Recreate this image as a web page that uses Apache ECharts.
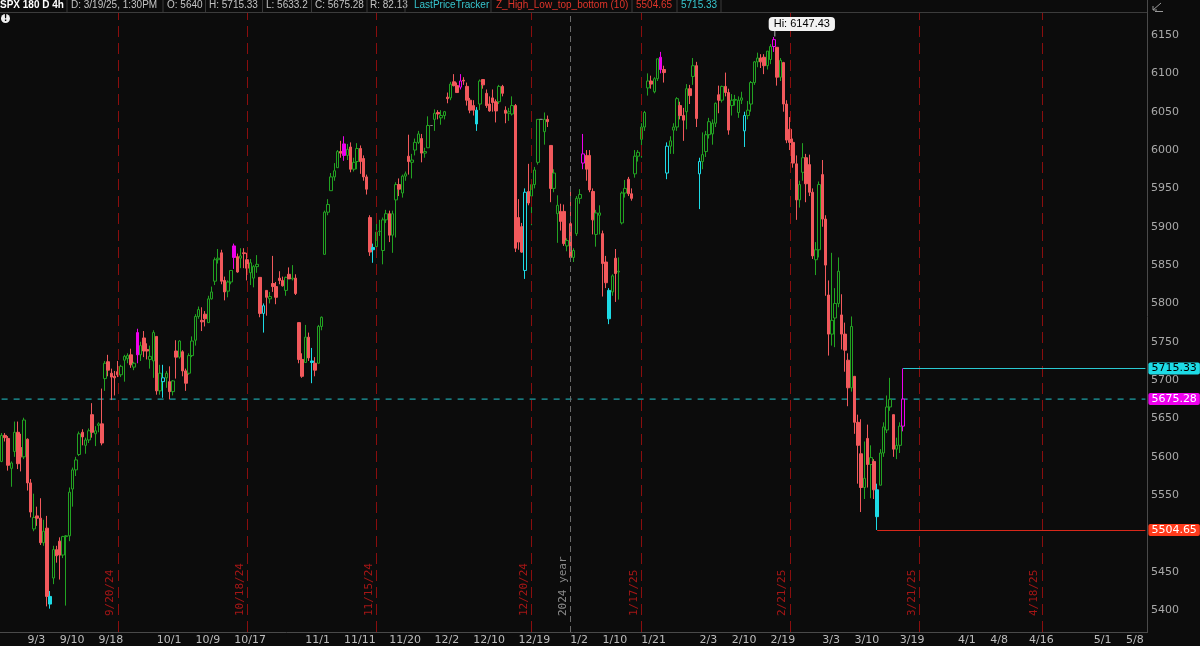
<!DOCTYPE html>
<html><head><meta charset="utf-8">
<script src="https://cdn.jsdelivr.net/npm/echarts@6/dist/echarts.min.js"></script>
<style>html,body{margin:0;padding:0;background:#0c0c0c;}#c{width:1200px;height:646px;}</style>
</head><body><div id="c"></div>
<script>
// trading days (two 4h bars per day: 9:30 and 13:30)
const days = ['8/27','8/28','8/29','8/30',
'9/3','9/4','9/5','9/6','9/9','9/10','9/11','9/12','9/13','9/16','9/17','9/18','9/19','9/20','9/23','9/24','9/25','9/26','9/27','9/30',
'10/1','10/2','10/3','10/4','10/7','10/8','10/9','10/10','10/11','10/14','10/15','10/16','10/17','10/18','10/21','10/22','10/23','10/24','10/25','10/28','10/29','10/30','10/31',
'11/1','11/4','11/5','11/6','11/7','11/8','11/11','11/12','11/13','11/14','11/15','11/18','11/19','11/20','11/21','11/22','11/25','11/26','11/27','11/29',
'12/2','12/3','12/4','12/5','12/6','12/9','12/10','12/11','12/12','12/13','12/16','12/17','12/18','12/19','12/20','12/23','12/24','12/26','12/27','12/30','12/31',
'1/2','1/3','1/6','1/7','1/8','1/10','1/13','1/14','1/15','1/16','1/17','1/21','1/22','1/23','1/24','1/27','1/28','1/29','1/30','1/31',
'2/3','2/4','2/5','2/6','2/7','2/10','2/11','2/12','2/13','2/14','2/18','2/19','2/20','2/21','2/24','2/25','2/26','2/27','2/28',
'3/3','3/4','3/5','3/6','3/7','3/10','3/11','3/12','3/13','3/14','3/17','3/18','3/19','3/20','3/21','3/24','3/25','3/26','3/27','3/28','3/31',
'4/1','4/2','4/3','4/4','4/7','4/8','4/9','4/10','4/11','4/14','4/15','4/16','4/17','4/21','4/22','4/23','4/24','4/25','4/28','4/29','4/30',
'5/1','5/2','5/5','5/6','5/7','5/8','5/9','5/12','5/13'];
const sessions = ['9:30','13:30'];

// 4h bars: [open, high, low, close]
const candles = [
[5594,5631,5593,5628],[5628,5631,5620,5625],[5624,5627,5582,5589],[5585,5594,5561,5592],
[5607,5646,5600,5632],[5632,5646,5584,5591],[5612,5630,5581,5600],[5600,5651,5597,5648],
[5623,5624,5556,5566],[5566,5571,5521,5528],[5506,5552,5503,5521],[5523,5535,5510,5520],
[5520,5546,5485,5488],[5488,5518,5484,5503],[5507,5523,5405,5418],[5418,5425,5402,5408],
[5442,5484,5434,5479],[5479,5484,5462,5471],[5490,5495,5440,5472],[5472,5497,5468,5496],
[5496,5498,5406,5497],[5497,5560,5490,5554],[5558,5586,5535,5583],[5583,5600,5575,5596],
[5603,5633,5601,5630],[5632,5636,5615,5626],[5615,5625,5604,5622],[5622,5637,5618,5634],
[5655,5670,5625,5632],[5630,5640,5614,5634],[5641,5645,5632,5643],[5643,5689,5615,5618],
[5702,5725,5686,5722],[5724,5733,5705,5713],[5709,5715,5674,5704],[5705,5712,5680,5703],
[5711,5725,5704,5707],[5707,5720,5704,5718],[5726,5733,5698,5731],[5728,5735,5722,5732],
[5733,5741,5716,5720],[5717,5724,5713,5722],[5762,5767,5722,5733],[5733,5750,5725,5745],
[5755,5764,5730,5738],[5740,5748,5727,5738],[5727,5745,5715,5731],[5725,5765,5703,5762],
[5757,5757,5681,5686],[5686,5720,5681,5709],[5698,5720,5677,5703],[5703,5712,5690,5709],
[5698,5718,5675,5685],[5685,5700,5680,5699],[5738,5752,5702,5730],[5730,5752,5728,5751],
[5737,5739,5705,5712],[5712,5715,5686,5696],[5709,5735,5707,5732],[5732,5757,5730,5751],
[5752,5786,5745,5783],[5783,5796,5780,5792],[5778,5795,5764,5776],[5786,5790,5770,5780],
[5775,5810,5775,5806],[5806,5822,5805,5815],[5829,5860,5824,5857],[5857,5871,5852,5859],
[5866,5870,5825,5829],[5830,5835,5804,5815],[5816,5830,5808,5828],[5828,5843,5825,5843],
[5875,5878,5845,5860],[5861,5865,5840,5841],[5859,5872,5846,5862],[5866,5872,5846,5865],
[5857,5866,5830,5846],[5840,5858,5824,5853],[5833,5850,5821,5848],[5848,5863,5840,5851],
[5834,5834,5782,5787],[5787,5800,5762,5797],[5817,5817,5784,5808],[5806,5815,5800,5809],
[5826,5862,5815,5822],[5822,5828,5799,5808],[5833,5842,5825,5830],[5830,5835,5822,5823],
[5817,5835,5810,5834],[5838,5847,5832,5832],[5832,5850,5830,5833],[5833,5838,5811,5813],
[5775,5775,5722,5727],[5727,5735,5703,5705],[5723,5772,5723,5756],[5756,5762,5725,5729],
[5725,5742,5696,5723],[5722,5730,5705,5713],[5722,5772,5722,5770],[5770,5783,5765,5782],
[5864,5921,5864,5919],[5919,5936,5915,5929],[5947,5970,5947,5965],[5965,5983,5960,5973],
[5977,6000,5977,5998],[5998,6012,5990,5996],[6008,6018,5986,5993],[5993,6008,5987,6001],
[6004,6010,5971,5975],[5975,5990,5972,5984],[5985,6009,5975,6002],[6002,6006,5969,5985],
[5989,5993,5960,5965],[5965,5968,5942,5949],[5912,5915,5862,5867],[5873,5878,5853,5870],
[5874,5905,5866,5893],[5894,5909,5888,5894],[5869,5912,5851,5909],[5909,5922,5905,5917],
[5917,5921,5880,5889],[5889,5921,5866,5917],[5935,5958,5886,5955],[5955,5963,5940,5949],
[5944,5968,5938,5966],[5966,5972,5960,5969],[5992,6020,5968,5985],[5984,5995,5963,5987],
[6000,6015,5993,6010],[6010,6025,6008,6021],[6015,6021,5984,5996],[5996,6003,5990,5998],
[6003,6044,6003,6032],[6032,6032,6032,6032],
[6040,6053,6025,6048],[6049,6052,6040,6047],[6042,6052,6033,6045],[6045,6051,6040,6050],
[6069,6075,6061,6067],[6068,6089,6065,6086],[6089,6099,6083,6084],[6084,6088,6075,6075],
[6082,6099,6079,6090],[6091,6095,6085,6090],[6083,6088,6058,6065],[6065,6068,6048,6052],
[6058,6065,6045,6052],[6052,6056,6025,6034],[6060,6092,6052,6090],[6092,6092,6080,6085],
[6074,6079,6055,6058],[6060,6070,6050,6051],[6068,6079,6050,6062],[6063,6066,6036,6051],
[6063,6085,6060,6083],[6083,6085,6070,6074],[6052,6057,6035,6048],[6048,6055,6038,6050],
[6047,6070,6045,6058],[6058,6060,5867,5872],[5912,5936,5870,5880],[5900,5905,5866,5867],
[5843,5950,5832,5945],[5946,5982,5928,5931],[5940,5960,5902,5955],[5955,5978,5950,5974],
[5984,6040,5981,6040],[6040,6040,6040,6040],[6024,6049,6007,6040],[6040,6045,6030,6037],
[6006,6006,5932,5950],[5950,5975,5945,5970],[5917,5941,5879,5928],[5920,5930,5895,5907],
[5920,5929,5875,5878],[5875,5885,5868,5882],
[5904,5949,5855,5860],[5860,5872,5854,5869],[5891,5940,5888,5937],[5937,5949,5930,5942],
[5983,6021,5975,5995],[5993,6000,5960,5975],[5993,6000,5945,5948],[5946,5950,5890,5909],
[5890,5922,5874,5918],[5915,5928,5890,5918],[5891,5895,5809,5852],[5854,5862,5820,5827],
[5817,5820,5773,5780],[5815,5838,5810,5836],[5859,5871,5802,5839],[5841,5860,5805,5842],
[5905,5946,5903,5944],[5944,5961,5938,5950],[5962,5965,5940,5943],[5943,5950,5934,5937],
[5969,6000,5964,5992],[5992,6000,5985,5997],[6014,6035,5990,6030],[6030,6051,6025,6049],
[6081,6100,6071,6090],[6090,6097,6080,6086],[6076,6095,6074,6093],[6093,6119,6090,6119],
[6121,6128,6100,6105],[6105,6110,6088,6101],[5970,6010,5962,6005],[6005,6018,5995,6012],
[6026,6035,5995,6030],[6030,6069,6025,6067],[6058,6063,6040,6045],[6045,6055,6012,6039],
[6050,6086,6027,6080],[6080,6085,6060,6071],[6096,6120,6085,6110],[6110,6115,6030,6041],
[5969,5990,5923,5985],[5985,6023,5975,5994],[5998,6025,5991,6020],[6020,6042,6015,6037],
[6021,6040,6007,6035],[6035,6062,6030,6061],[6072,6084,6048,6065],[6065,6084,6062,6083],
[6083,6101,6070,6075],[6075,6080,6020,6026],[6058,6073,6045,6065],[6065,6072,6058,6066],
[6049,6070,6042,6065],[6065,6076,6060,6068],[6025,6050,6004,6045],[6045,6064,6040,6052],
[6060,6090,6050,6088],[6088,6116,6085,6115],[6115,6127,6108,6120],[6120,6125,6107,6115],
[6121,6125,6099,6110],[6110,6129,6105,6129],[6118,6138,6112,6135],[6135,6147.43,6128,6144],
[6134,6134,6084,6095],[6095,6120,6090,6117],[6114,6115,6050,6060],[6060,6065,6009,6013],
[6027,6043,6000,6010],[6010,6015,5977,5983],[5982,5993,5909,5935],[5935,5960,5925,5955],
[5971,6009,5960,5990],[5990,5995,5932,5956],[5981,5994,5940,5945],[5945,5950,5858,5862],
[5857,5880,5837,5870],[5870,5959,5860,5955],
[5968,5987,5900,5910],[5910,5915,5810,5850],[5811,5830,5732,5760],[5760,5866,5745,5778],
[5781,5820,5743,5800],[5800,5860,5795,5842],[5785,5812,5740,5760],[5760,5775,5711,5739],
[5726,5735,5666,5690],[5690,5783,5685,5770],[5705,5705,5630,5645],[5645,5655,5565,5615],
[5604,5649,5528,5560],[5560,5620,5545,5572],[5624,5642,5560,5590],[5590,5615,5546,5599],
[5594,5597,5545,5557],[5557,5565,5504.65,5522],[5563,5610,5563,5605],[5605,5645,5600,5639],
[5635,5680,5631,5665],[5665,5703,5660,5675],[5655,5655,5600,5610],[5610,5625,5597,5615],
[5615,5645,5605,5640],[5640,5715.33,5633.2,5675.28]
];
const tops = [42,72,106,142,180,204,239,279];        // Z_High_Low top bars (magenta)
const bottoms = [15,50,81,96,115,147,162,188,206,216,230,271]; // bottom bars (cyan)
const flats = [133,167];                               // half-day empty sessions

const tickDays = ['9/3','9/10','9/18','10/1','10/9','10/17','11/1','11/11','11/20','12/2','12/10','12/19',
'1/2','1/10','1/21','2/3','2/10','2/19','3/3','3/10','3/19','4/1','4/8','4/16','5/1','5/8'];
const yTicks = [5400,5450,5500,5550,5600,5650,5700,5750,5800,5850,5900,5950,6000,6050,6100,6150];
const expiryNextDays = ['9/23','10/21','11/18','12/23','1/21','2/24','3/24','4/21'];
const expiryLabels = ['9/20/24','10/18/24','11/15/24','12/20/24','1/17/25','2/21/25','3/21/25','4/18/25'];
const yearDay = '1/2', yearLabel = '2024 year';
const lastClose = 5675.28, trackerPrice = 5715.33, lowLevel = 5504.65, hiPrice = 6147.43;
const lowBar = 271, trackerBar = 279, hiBar = 239;

const headerItems = [
  ['SPX 180 D 4h',0,'#ffffff',true],['D: 3/19/25, 1:30PM',71,'#c4c4c4'],['O: 5640',167,'#c4c4c4'],
  ['H: 5715.33',209,'#c4c4c4'],['L: 5633.2',266,'#c4c4c4'],['C: 5675.28',315,'#c4c4c4'],['R: 82.13',370,'#c4c4c4'],
  ['LastPriceTracker',414,'#37c6cf'],['Z_High_Low_top_bottom (10)',496,'#e0352a'],['5504.65',636,'#e0352a'],['5715.33',681,'#37c6cf']];
const headerSeps = [67,163,205.5,262.5,311.5,367,405,491,632,677,721];

// ---- build ----
const cats = [];
days.forEach(d => sessions.forEach(s => cats.push(d + ' ' + s)));
const NSLOT = 355;
const tickSet = new Set(tickDays.map(d => d + ' 9:30'));

const BG = '#0c0c0c', UP = '#22a322', DN = '#f2595c', MAG = '#ee00ee', CY = '#1ddbe6';
const data = candles.map((r, i) => {
  const item = { value: [r[0], r[3], r[2], r[1]] };
  const up = r[3] >= r[0];
  if (tops.includes(i)) item.itemStyle = up ? {color: BG, borderColor: MAG} : {color0: MAG, borderColor0: MAG};
  else if (bottoms.includes(i)) item.itemStyle = up ? {color: BG, borderColor: CY} : {color0: CY, borderColor0: CY};
  else if (flats.includes(i)) item.itemStyle = {color: '#888', borderColor: '#888', color0: '#888', borderColor0: '#888'};
  return item;
});

const vLines = expiryNextDays.map((d, i) => ({
  xAxis: d + ' 9:30',
  lineStyle: {color: '#8a0e0e', type: [11, 6], width: 1, opacity: 1},
  label: {show: true, formatter: expiryLabels[i], position: 'insideStartTop', color: '#a51616',
          fontFamily: 'DejaVu Sans Mono', fontSize: 11, distance: [16, 2]}
}));
vLines.push({
  xAxis: yearDay + ' 9:30',
  lineStyle: {color: '#6a6a6a', type: [6, 4], width: 1},
  label: {show: true, formatter: yearLabel, position: 'insideStartTop', color: '#8a8a8a',
          fontFamily: 'DejaVu Sans Mono', fontSize: 11, distance: [16, 2]}
});
const tag = (bg, fg, txt) => ({show: true, position: 'end', distance: 3, backgroundColor: bg, color: fg,
  fontFamily: 'DejaVu Sans', fontSize: 11, padding: [1, 3, 0, 3], borderRadius: 2, formatter: txt});

const hLines = [
  [{coord: [cats[trackerBar], trackerPrice], lineStyle: {color: '#2ac9d2', type: 'solid', width: 1}, label: tag(CY, '#000000', trackerPrice.toFixed(2))},
   {coord: [cats[NSLOT - 1], trackerPrice]}],
  [{coord: [cats[lowBar], lowLevel], lineStyle: {color: '#d8281a', type: 'solid', width: 1}, label: tag('#ff3b1c', '#ffffff', lowLevel.toFixed(2))},
   {coord: [cats[NSLOT - 1], lowLevel]}]
];

const graphics = [];
headerItems.forEach(h => graphics.push({type: 'text', left: h[1], top: 0.5, style: {text: h[0], fill: h[2],
  font: (h[3] ? 'bold ' : '') + '10px "Liberation Sans", Arial, sans-serif'}}));
headerSeps.forEach(x => graphics.push({type: 'line', shape: {x1: x, y1: 0, x2: x, y2: 12}, style: {stroke: '#3a3a3a', lineWidth: 1}}));
graphics.push({type: 'line', shape: {x1: 0, y1: 12.5, x2: 1148, y2: 12.5}, style: {stroke: '#3c3c3c', lineWidth: 1}});
graphics.push({type: 'line', shape: {x1: 1147.5, y1: 0, x2: 1147.5, y2: 633}, style: {stroke: '#4a4a4a', lineWidth: 1}});
graphics.push({type: 'circle', shape: {cx: 5.5, cy: 18.5, r: 4.5}, style: {fill: '#f0f0f0'}});
graphics.push({type: 'text', x: 5.5, y: 18.5, style: {text: '!', fill: '#000', font: 'bold 8px "DejaVu Sans"', align: 'center', verticalAlign: 'middle'}});
graphics.push({type: 'polyline', shape: {points: [[1153, 10], [1161, 3]]}, style: {stroke: '#9a9a9a', lineWidth: 1}});
graphics.push({type: 'polyline', shape: {points: [[1153, 6], [1153, 10], [1157, 10]]}, style: {stroke: '#9a9a9a', lineWidth: 1, fill: null}});
graphics.push({type: 'line', shape: {x1: 1155, y1: 11.5, x2: 1163, y2: 11.5}, style: {stroke: '#9a9a9a', lineWidth: 1}});

const chart = echarts.init(document.getElementById('c'), null, {renderer: 'canvas'});
chart.setOption({
  backgroundColor: BG,
  animation: false,
  grid: {left: -2.5, right: 53, top: 13, bottom: 14},
  xAxis: {
    type: 'category', data: cats, max: NSLOT - 1, boundaryGap: true,
    axisLine: {show: true, lineStyle: {color: '#4a4a4a'}}, axisTick: {show: false},
    axisLabel: {interval: (idx, v) => tickSet.has(v), formatter: v => v.split(' ')[0], align: 'left',
      color: '#bdbdbd', fontSize: 11, fontFamily: '"DejaVu Sans", sans-serif', margin: 3},
    splitLine: {show: false}
  },
  yAxis: {
    type: 'value', position: 'right', min: 5371.6, max: 6178.7, scale: true,
    axisLine: {show: false}, axisTick: {show: false}, splitLine: {show: false},
    axisLabel: {customValues: yTicks, formatter: v => String(v), color: '#a9a9a9', fontSize: 11,
      fontFamily: '"DejaVu Sans", sans-serif', margin: 4}
  },
  graphic: graphics,
  series: [{
    type: 'line', name: 'last', z: 1, silent: true, symbol: 'none', clip: false,
    data: [[cats[0], lastClose], [cats[NSLOT - 1], lastClose]],
    itemStyle: {color: '#22c4cc'},
    lineStyle: {color: '#22c4cc', type: [6, 6], width: 1},
    endLabel: {show: true, formatter: lastClose.toFixed(2), distance: 3, backgroundColor: MAG, color: '#ffffff',
      fontFamily: 'DejaVu Sans', fontSize: 11, padding: [1, 3, 0, 3], borderRadius: 2}
  }, {
    type: 'candlestick', z: 2, data: data, barWidth: 3,
    itemStyle: {color: BG, color0: DN, borderColor: UP, borderColor0: DN, borderWidth: 1},
    markLine: {silent: true, symbol: ['none', 'none'], animation: false, data: vLines.concat(hLines)},
    markPoint: {silent: true, animation: false, data: [
      {coord: [cats[hiBar], hiPrice], symbol: 'rect', symbolSize: [1, 7], symbolOffset: [1, -4],
       itemStyle: {color: '#bbbbbb'},
       label: {show: true, formatter: 'Hi: ' + hiPrice.toFixed(2), position: 'inside', offset: [27, -9],
         backgroundColor: '#f2f2f2', color: '#000', fontSize: 11, fontFamily: '"Liberation Sans", Arial',
         padding: [2, 5, 1, 5], borderRadius: 4}}
    ]}
  }]
});
</script></body></html>
